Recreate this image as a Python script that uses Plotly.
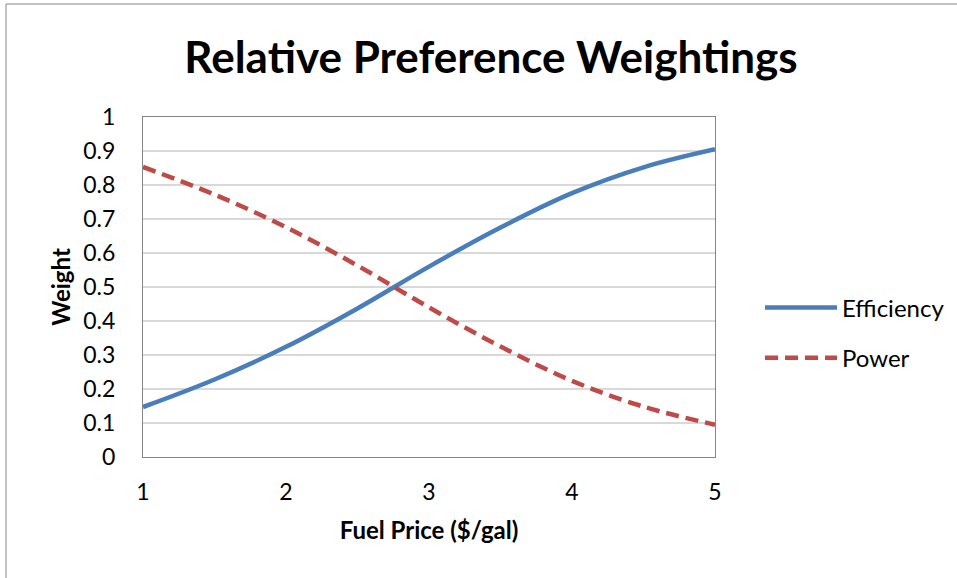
import plotly.graph_objects as go

fuel_price = [1.0, 1.5, 2.0, 2.5, 3.0, 3.5, 4.0, 4.5, 5.0]
efficiency = [0.147, 0.228, 0.324, 0.437, 0.560, 0.675, 0.776, 0.852, 0.905]
power = [0.853, 0.772, 0.676, 0.563, 0.440, 0.325, 0.224, 0.148, 0.095]
y_ticks = [0, 0.1, 0.2, 0.3, 0.4, 0.5, 0.6, 0.7, 0.8, 0.9, 1]
y_tick_labels = ["0", "0.1", "0.2", "0.3", "0.4", "0.5", "0.6", "0.7", "0.8", "0.9", "1"]
x_ticks = [1, 2, 3, 4, 5]

FONT = "Lato"

fig = go.Figure()
fig.add_trace(go.Scatter(
    x=fuel_price, y=efficiency, name="Efficiency", mode="lines", legendgroup="e",
    line=dict(color="#4A7EBB", width=4.5, shape="spline"),
))
fig.add_trace(go.Scatter(
    x=fuel_price, y=power, name="Power", mode="lines", legendgroup="p",
    line=dict(color="#BE4B48", width=4.5, shape="spline", dash="13px,7px"),
))

fig.update_layout(
    width=957, height=578,
    margin=dict(l=143, r=242, t=117, b=121, autoexpand=False),
    paper_bgcolor="white", plot_bgcolor="white",
    font=dict(family=FONT, color="black", size=23),
    title=dict(text="<b>Relative Preference Weightings</b>",
               font=dict(family=FONT, size=44, color="black"),
               x=491 / 957, xanchor="center", y=1 - 58 / 578, yanchor="middle"),
    xaxis=dict(range=[1, 5], tickvals=x_ticks, showgrid=False, zeroline=False,
               showline=True, linecolor="#868686", linewidth=1, mirror=True,
               ticks="", ticklabelstandoff=14,
               tickfont=dict(family=FONT, size=23),
               title=dict(text="<b>Fuel Price ($/gal)</b>", font=dict(family=FONT, size=24),
                          standoff=18)),
    yaxis=dict(range=[0, 1], tickvals=y_ticks, ticktext=y_tick_labels,
               showgrid=True, gridcolor="#D9D9D9", gridwidth=1.5, zeroline=False,
               showline=True, linecolor="#868686", linewidth=1, mirror=True,
               ticks="", ticklabelstandoff=22,
               tickfont=dict(family=FONT, size=23),
               title=dict(text="<b>Weight</b>", font=dict(family=FONT, size=24),
                          standoff=5)),
    legend=dict(x=1.0 + 45 / 572, xanchor="left", y=(457 - 333) / 340, yanchor="middle",
                font=dict(family=FONT, size=24), itemwidth=72,
                tracegroupgap=16, bgcolor="rgba(0,0,0,0)"),
    showlegend=True,
)

# outer chart border
fig.add_shape(type="rect", xref="paper", yref="paper",
              x0=(6 - 143) / 572, x1=2.0, y0=-1.0, y1=(457 - 4) / 340,
              line=dict(color="#868686", width=1), fillcolor="rgba(0,0,0,0)",
              layer="below")

fig.write_html("out.html")
